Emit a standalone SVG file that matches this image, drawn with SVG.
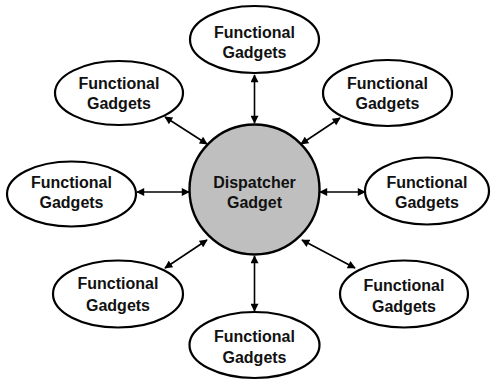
<svg xmlns="http://www.w3.org/2000/svg" width="492" height="380" viewBox="0 0 492 380">
<defs>
<style>
.n{fill:#fff;stroke:#000;stroke-width:2.2}
.c{fill:#bfbfbf;stroke:#000;stroke-width:2.4}
.t{font-family:"Liberation Sans",Arial,sans-serif;font-weight:bold;font-size:16px;fill:#111;text-anchor:middle}
.e{stroke:#000;stroke-width:1.6;fill:none;marker-start:url(#a);marker-end:url(#a)}
</style>
<marker id="a" viewBox="0 0 10 10" refX="9" refY="5" markerWidth="9" markerHeight="8" markerUnits="userSpaceOnUse" orient="auto-start-reverse">
<path d="M0,0 L10,5 L0,10 Z" fill="#000"/>
</marker>
</defs>
<g id="connectors">
<line class="e" x1="254.5" y1="75" x2="254.5" y2="123"/>
<line class="e" x1="254.5" y1="256" x2="254.5" y2="311"/>
<line class="e" x1="137" y1="192" x2="189" y2="192"/>
<line class="e" x1="320" y1="192" x2="365" y2="192"/>
<line class="e" x1="165" y1="117" x2="207" y2="144"/>
<line class="e" x1="340" y1="118" x2="301" y2="144"/>
<line class="e" x1="165" y1="268" x2="207" y2="240"/>
<line class="e" x1="355" y1="268" x2="302" y2="240"/>
</g>
<g id="dispatcher">
<circle class="c" cx="254.5" cy="189.5" r="65"/>
<text class="t" x="254.5" y="188">Dispatcher</text>
<text class="t" x="254.5" y="208">Gadget</text>
</g>
<g id="fg-top">
<ellipse class="n" cx="254.5" cy="39.5" rx="64.5" ry="33.5"/>
<text class="t" x="254.5" y="37.5">Functional</text>
<text class="t" x="254.5" y="57.5">Gadgets</text>
</g>
<g id="fg-upper-left">
<ellipse class="n" cx="119" cy="93" rx="64" ry="32"/>
<text class="t" x="119" y="88.5">Functional</text>
<text class="t" x="119" y="108.5">Gadgets</text>
</g>
<g id="fg-upper-right">
<ellipse class="n" cx="387.5" cy="93" rx="64.5" ry="33"/>
<text class="t" x="387.5" y="88.5">Functional</text>
<text class="t" x="387.5" y="108.5">Gadgets</text>
</g>
<g id="fg-left">
<ellipse class="n" cx="71.5" cy="194" rx="64.5" ry="32.5"/>
<text class="t" x="71.5" y="187.5">Functional</text>
<text class="t" x="71.5" y="207.5">Gadgets</text>
</g>
<g id="fg-right">
<ellipse class="n" cx="427" cy="191" rx="62" ry="33.5"/>
<text class="t" x="427" y="187.5">Functional</text>
<text class="t" x="427" y="207.5">Gadgets</text>
</g>
<g id="fg-lower-left">
<ellipse class="n" cx="118" cy="294" rx="65" ry="33.5"/>
<text class="t" x="118" y="288.5">Functional</text>
<text class="t" x="118" y="310.5">Gadgets</text>
</g>
<g id="fg-lower-right">
<ellipse class="n" cx="404" cy="294" rx="64" ry="33.5"/>
<text class="t" x="404" y="290.5">Functional</text>
<text class="t" x="404" y="311.5">Gadgets</text>
</g>
<g id="fg-bottom">
<ellipse class="n" cx="254.5" cy="345" rx="65" ry="33"/>
<text class="t" x="254.5" y="342">Functional</text>
<text class="t" x="254.5" y="363">Gadgets</text>
</g>
</svg>
